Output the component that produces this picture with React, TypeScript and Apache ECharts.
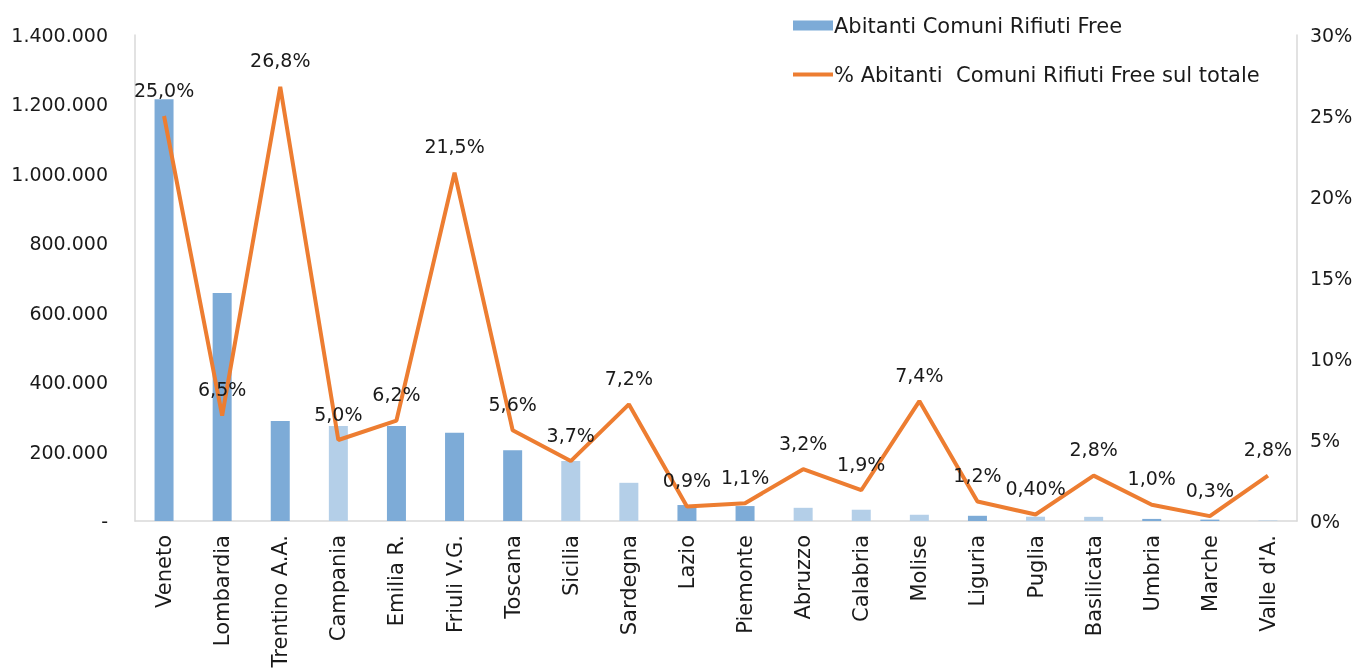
import React, { useEffect, useRef } from "react";
import * as echarts from "echarts";

const categories = [
  "Veneto", "Lombardia", "Trentino A.A.", "Campania", "Emilia R.", "Friuli V.G.",
  "Toscana", "Sicilia", "Sardegna", "Lazio", "Piemonte", "Abruzzo", "Calabria",
  "Molise", "Liguria", "Puglia", "Basilicata", "Umbria", "Marche", "Valle d'A.",
];
const abitanti = [
  1215000, 657000, 288000, 274000, 274000, 254000, 204000, 173000, 110000, 46000,
  43000, 38000, 32500, 18000, 15000, 12400, 12000, 6000, 4000, 1500,
];
const percentuale = [
  25.0, 6.5, 26.8, 5.0, 6.2, 21.5, 5.6, 3.7, 7.2, 0.9, 1.1, 3.2, 1.9, 7.4, 1.2,
  0.4, 2.8, 1.0, 0.3, 2.8,
];
const percentLabels = [
  "25,0%", "6,5%", "26,8%", "5,0%", "6,2%", "21,5%", "5,6%", "3,7%", "7,2%", "0,9%",
  "1,1%", "3,2%", "1,9%", "7,4%", "1,2%", "0,40%", "2,8%", "1,0%", "0,3%", "2,8%",
];
// true = lighter shade (southern regions)
const lightBar = [
  false, false, false, true, false, false, false, true, true, false, false, true,
  true, true, false, true, true, false, false, true,
];

const DARK = "#7DABD7";
const LIGHT = "#B4CFE8";
const ORANGE = "#ED7D31";
const FONT = "'DejaVu Sans', sans-serif";

function fmtThousands(v: number): string {
  if (v === 0) return "-";
  return String(Math.round(v)).replace(/\B(?=(\d{3})+(?!\d))/g, ".");
}

export default function App() {
  const ref = useRef<HTMLDivElement>(null);
  useEffect(() => {
    if (!ref.current) return;
    const chart = echarts.init(ref.current, undefined, { renderer: "svg" });
    chart.setOption({
      animation: false,
      textStyle: { fontFamily: FONT, color: "#000" },
      legend: {
        orient: "vertical",
        left: 788,
        top: 10,
        itemGap: 28,
        itemWidth: 40,
        itemHeight: 10,
        textStyle: { fontFamily: FONT, fontSize: 21, color: "#1a1a1a", padding: [0, 0, 0, -4] },
        data: [
          { name: "Abitanti Comuni Rifiuti Free", icon: "rect" },
          {
            name: "% Abitanti  Comuni Rifiuti Free sul totale",
            icon: "path://M0,0 L40,0 L40,4 L0,4 Z",
            itemStyle: { color: ORANGE, opacity: 1 },
          },
        ],
      },
      grid: { left: 135, right: 65, top: 35, bottom: 150, containLabel: false },
      xAxis: {
        type: "category",
        data: categories,
        axisLine: { lineStyle: { color: "#D9D9D9", width: 1.5 } },
        axisTick: { show: false },
        axisLabel: {
          rotate: 90,
          interval: 0,
          fontFamily: FONT,
          fontSize: 21,
          color: "#1a1a1a",
          margin: 14,
        },
      },
      yAxis: [
        {
          type: "value",
          min: 0,
          max: 1400000,
          interval: 200000,
          splitLine: { show: false },
          axisLine: { show: true, lineStyle: { color: "#D9D9D9", width: 1.5 } },
          axisTick: { show: false },
          axisLabel: {
            formatter: (v: number) => fmtThousands(v),
            fontFamily: FONT,
            fontSize: 19,
            color: "#1a1a1a",
            margin: 27,
          },
        },
        {
          type: "value",
          min: 0,
          max: 30,
          interval: 5,
          position: "right",
          splitLine: { show: false },
          axisLine: { show: true, lineStyle: { color: "#D9D9D9", width: 1.5 } },
          axisTick: { show: false },
          axisLabel: {
            formatter: (v: number) => v + "%",
            fontFamily: FONT,
            fontSize: 19,
            color: "#1a1a1a",
            margin: 13,
          },
        },
      ],
      series: [
        {
          name: "Abitanti Comuni Rifiuti Free",
          type: "bar",
          yAxisIndex: 0,
          barWidth: 19,
          itemStyle: { color: DARK },
          data: abitanti.map((v, i) => ({
            value: v,
            itemStyle: { color: lightBar[i] ? LIGHT : DARK },
          })),
        },
        {
          name: "% Abitanti  Comuni Rifiuti Free sul totale",
          type: "line",
          yAxisIndex: 1,
          symbol: "circle",
          symbolSize: 0,
          showSymbol: true,
          lineStyle: { color: ORANGE, width: 4 },
          itemStyle: { color: ORANGE },
          z: 5,
          label: {
            show: true,
            position: "top",
            distance: 17,
            fontFamily: FONT,
            fontSize: 19,
            color: "#1a1a1a",
            formatter: (p: any) => percentLabels[p.dataIndex],
          },
          labelLayout: { hideOverlap: false },
          data: percentuale,
        },
      ],
    });
    return () => chart.dispose();
  }, []);
  return (
    <div
      ref={ref}
      style={{ position: "fixed", left: 0, top: 0, width: 1362, height: 671 }}
    />
  );
}
